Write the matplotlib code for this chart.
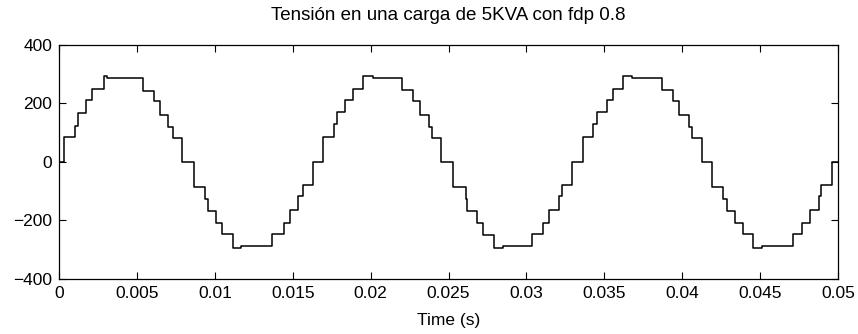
import numpy as np
import matplotlib.pyplot as plt

plt.rcParams['font.family'] = ['Liberation Sans', 'DejaVu Sans']

# switching instants (ms) and the voltage level held from that instant on
t_ms = [0, 0.30, 1.05, 1.22, 1.76, 2.12, 2.89, 3.11, 5.38, 6.08, 6.51, 7.00, 7.32,
        7.90, 8.65, 9.36, 9.57, 10.06, 10.49, 11.18, 11.71, 13.68, 14.43, 14.82,
        15.31, 15.67, 16.27, 16.96, 17.66, 17.83, 18.35, 18.89, 19.48, 20.17,
        22.01, 22.74, 23.17, 23.77, 23.94, 24.52, 25.30, 26.10, 26.21, 26.81,
        27.23, 27.90, 28.48, 30.34, 31.05, 31.45, 32.11, 32.27, 32.95, 33.63,
        34.30, 34.52, 35.16, 35.54, 36.22, 36.80, 38.73, 39.40, 39.80, 40.44,
        40.62, 41.26, 41.94, 42.65, 42.86, 43.40, 43.89, 44.53, 45.11, 47.08,
        47.68, 48.21, 48.75, 48.92, 49.60, 50.0]
v = [0, 85, 123, 168, 210, 249, 293, 286, 243, 206, 161, 120, 81,
     0, -85, -128, -170, -211, -248, -294, -287, -246, -208, -164,
     -119, -81, 0, 85, 129, 169, 212, 250, 293, 286,
     244, 206, 161, 120, 81, 0, -86, -128, -170, -211,
     -250, -294, -287, -246, -208, -164, -119, -81, 0, 85,
     129, 169, 212, 250, 293, 286, 244, 206, 161, 120,
     81, 0, -86, -128, -170, -211, -248, -294, -287, -246,
     -208, -164, -119, -81, 0, 0]

xticks = [0, 0.005, 0.01, 0.015, 0.02, 0.025, 0.03, 0.035, 0.04, 0.045, 0.05]
xtick_labels = ['0', '0.005', '0.01', '0.015', '0.02', '0.025', '0.03', '0.035', '0.04', '0.045', '0.05']
yticks = [-400, -200, 0, 200, 400]

t = np.array(t_ms) / 1000.0

fig = plt.figure(figsize=(8.58, 3.34), dpi=100)
ax = fig.add_axes([0.0688, 0.1656, 0.9079, 0.7006])
ax.step(t, v, where='post', color='black', linewidth=1.1)

ax.set_xlim(0, 0.05)
ax.set_ylim(-400, 400)
ax.set_xticks(xticks)
ax.set_xticklabels(xtick_labels)
ax.set_yticks(yticks)
ax.tick_params(direction='in', length=5, width=0.8, top=True, right=True,
               labelsize=12.5, colors='black', pad=5)
for s in ax.spines.values():
    s.set_linewidth(0.9)

ax.set_title('Tensión en una carga de 5KVA con fdp 0.8', fontsize=13.5, pad=18)
ax.set_xlabel('Time (s)', fontsize=12.5, labelpad=9)

fig.savefig('out.png', dpi=100)
